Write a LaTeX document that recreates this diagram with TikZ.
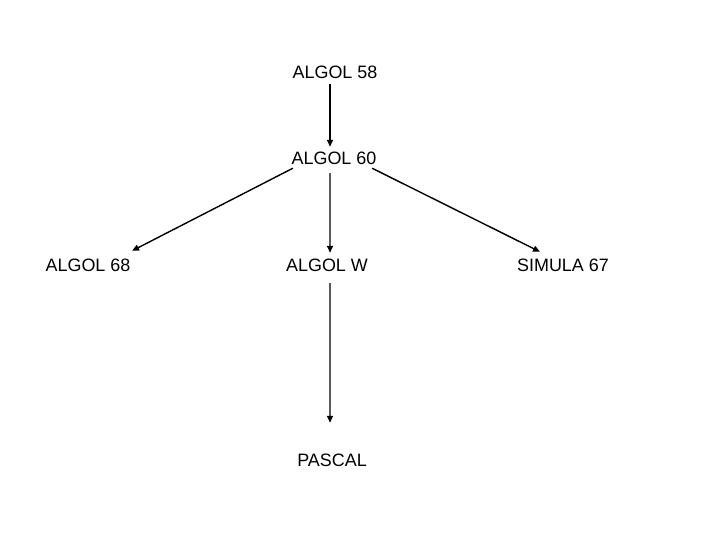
\documentclass[tikz,border=0pt]{standalone}
\usepackage{fontspec}
\setmainfont{Liberation Sans}
\usepackage{tikz}
\usetikzlibrary{arrows.meta,positioning}

\begin{document}
\begin{tikzpicture}[x=1bp,y=-1bp,
    lang/.style={inner sep=0pt,text height=13bp,text depth=0pt,font=\fontsize{18}{18}\selectfont},
    arr/.style={line width=1.4bp,-{Triangle[length=7bp,width=6bp]}}]
            \useasboundingbox (0,0) rectangle (720,540);
            \node[lang] (algol58) at (335,72.5) {ALGOL 58};
            \node[lang] (algol60) at (334,158) {ALGOL 60};
            \node[lang] (algol68) at (88,265) {ALGOL 68};
            \node[lang] (algolw) at (327,265) {ALGOL W};
            \node[lang] (simula) at (563,265) {SIMULA 67};
            \node[lang] (pascal) at (332,459.5) {PASCAL};
            \draw[arr, shorten <=5bp, shorten >=4.5bp] ([xshift=-5bp]algol58.south) -- ([xshift=-4bp]algol60.north);
            \draw[arr] ([xshift=1.5bp,yshift=-3.5bp]algol60.south west) -- ([xshift=1.5bp,yshift=7.5bp]algol68.north east);
            \draw[arr, shorten <=8.5bp, shorten >=5.5bp] ([xshift=-4bp]algol60.south) -- ([xshift=3bp]algolw.north);
            \draw[arr] ([xshift=-4.5bp,yshift=-3.5bp]algol60.south east) -- ([xshift=-23bp,yshift=6.5bp]simula.north);
            \draw[arr, shorten <=11.5bp, shorten >=30bp] ([xshift=3bp]algolw.south) -- ([xshift=-2bp]pascal.north);
        \end{tikzpicture}
\end{document}
